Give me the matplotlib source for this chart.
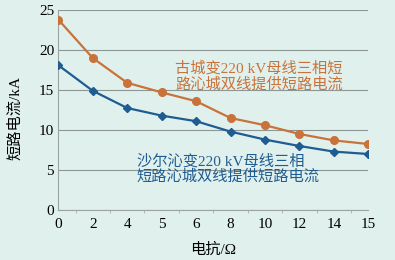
import numpy as np
import matplotlib
matplotlib.use('Agg')
import matplotlib.pyplot as plt

plt.rcParams['font.family'] = ['Liberation Serif', 'Noto Sans CJK SC', 'DejaVu Sans']

# reactance categories (equally spaced on the chart)
x_labels = ['0', '2', '4', '5', '6', '8', '10', '12', '14', '15']
# short-circuit current, kA
gucheng = [23.8, 19.0, 15.9, 14.7, 13.6, 11.5, 10.6, 9.5, 8.7, 8.25]
shaerqin = [18.1, 14.9, 12.75, 11.8, 11.1, 9.8, 8.8, 8.0, 7.3, 7.0]

bg = '#e0f1ed'
orange = '#c9723a'
blue = '#1f5c92'

fig = plt.figure(figsize=(3.95, 2.6), dpi=100, facecolor=bg)
ax = fig.add_axes([0.1476, 0.1923, 0.7848, 0.7692], facecolor=bg)

idx = np.arange(len(x_labels))
ax.plot(idx, gucheng, color=orange, lw=1.6, marker='o', ms=5.5, zorder=3)
ax.plot(idx, shaerqin, color=blue, lw=1.6, marker='D', ms=4.2, zorder=3)

ax.set_xlim(0, len(x_labels) - 1)
ax.set_ylim(0, 25)
ax.set_xticks(idx)
ax.set_xticklabels(x_labels)
ax.set_xticks(idx[:-1] + 0.5, minor=True)
ax.set_yticks([0, 5, 10, 15, 20, 25])
ax.tick_params(axis='x', which='major', length=0, pad=6, labelsize=11)
ax.tick_params(axis='x', which='minor', length=2, color='#aaaaaa')
ax.tick_params(axis='y', length=0, pad=3, labelsize=11)
ax.grid(axis='y', color='#8c9694', lw=0.8)
for s in ['top', 'right']:
    ax.spines[s].set_visible(False)
for s in ['left', 'bottom']:
    ax.spines[s].set_color('#9aa3a1')
    ax.spines[s].set_linewidth(0.8)

ax.set_xlabel('电抗/Ω', fontsize=11, labelpad=8)
ax.set_ylabel('短路电流/kA', fontsize=11)
ax.yaxis.set_label_coords(-0.115, 0.46)

ax.text(3.4, 16.7, '古城变220 kV母线三相短\n路沁城双线提供短路电流', color=orange,
        fontsize=11, va='center', ha='left', linespacing=1.1)
ax.text(2.28, 5.1, '沙尔沁变220 kV母线三相\n短路沁城双线提供短路电流', color=blue,
        fontsize=11, va='center', ha='left', linespacing=1.1)

fig.savefig('out.png', dpi=100, facecolor=bg)
